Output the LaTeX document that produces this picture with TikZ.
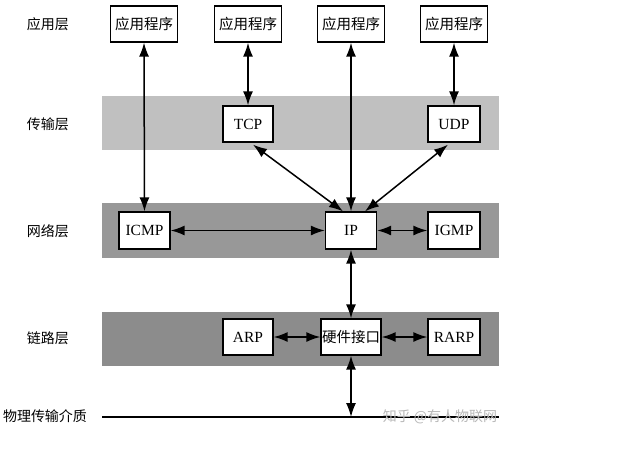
\documentclass[tikz,border=0pt]{standalone}
\usepackage{fontspec}
\setmainfont{Liberation Serif}
\newfontfamily\cjk{Noto Sans CJK SC}
\usetikzlibrary{arrows.meta}
\definecolor{transband}{RGB}{192,192,192}
\definecolor{netband}{RGB}{152,152,152}
\definecolor{linkband}{RGB}{140,140,140}
\tikzset{
  box/.style={draw, line width=1.3pt, fill=white, minimum height=36pt, inner sep=0pt, font=\fontsize{15.5}{17}\selectfont},
  cjkbox/.style={box, font=\cjk\fontsize{14.5}{16}\selectfont},
  lbl/.style={inner sep=0pt, font=\cjk\fontsize{14}{16}\selectfont},
  tip/.tip={Latex[length=14pt,width=10pt]},
  arr/.style={tip-tip, line width=1.5pt},
}
\begin{document}
\begin{tikzpicture}[x=1pt,y=-1pt]
\useasboundingbox[fill=white] (0,0) rectangle (630,453);
% bands
\fill[transband] (102,96) rectangle (499,150);
\fill[netband] (102,203) rectangle (499,258);
\fill[linkband] (102,312) rectangle (499,366);
% layer labels
\node[lbl] (lapp) at (48,24) {应用层};
\node[lbl] (ltrans) at (48,124) {传输层};
\node[lbl] (lnet) at (48,231) {网络层};
\node[lbl] (llink) at (48,338) {链路层};
\node[lbl] (lphy) at (45,416) {物理传输介质};
% physical line
\coordinate (phyL) at (102,417);
\coordinate (phyR) at (499,417);
\coordinate (phyhw) at (351,417);
\draw[line width=1.4pt] (phyL) -- (phyR);
% application boxes
\node[cjkbox, minimum width=67pt] (app1) at (144,24) {应用程序};
\node[cjkbox, minimum width=67pt] (app2) at (248,24) {应用程序};
\node[cjkbox, minimum width=67pt] (app3) at (351,24) {应用程序};
\node[cjkbox, minimum width=67pt] (app4) at (454,24) {应用程序};
% transport
\node[box, minimum width=50pt] (tcp) at (248,124) {TCP};
\node[box, minimum width=52pt] (udp) at (454,124) {UDP};
% network
\node[box, minimum width=51pt, minimum height=37pt] (icmp) at (144.5,230.5) {ICMP};
\node[box, minimum width=51pt, minimum height=37pt] (ip) at (351,230.5) {IP};
\node[box, minimum width=52pt, minimum height=37pt] (igmp) at (454,230.5) {IGMP};
% link
\node[box, minimum width=50pt] (arp) at (248,337) {ARP};
\node[cjkbox, minimum width=60pt] (hw) at (351,337) {硬件接口};
\node[box, minimum width=52pt] (rarp) at (454,337) {RARP};
% connectors
\draw[arr] (app1.south) -- (icmp.north);
\draw[arr] (app2.south) -- (tcp.north);
\draw[arr] (app3.south) -- (ip.north);
\draw[arr] (app4.south) -- (udp.north);
\draw[arr] ([xshift=5pt,yshift=-2pt]tcp.south) -- ([xshift=-8pt]ip.north);
\draw[arr] ([xshift=-6pt,yshift=-2pt]udp.south) -- ([xshift=14pt]ip.north);
\draw[arr] (icmp.east) -- (ip.west);
\draw[arr] (ip.east) -- (igmp.west);
\draw[arr] (ip.south) -- (hw.north);
\draw[arr] (arp.east) -- (hw.west);
\draw[arr] (hw.east) -- (rarp.west);
\draw[arr] (hw.south) -- (phyhw);
% watermark
\node[lbl, text=black!28] (wm) at (440,417) {知乎 @有人物联网};
\end{tikzpicture}
\end{document}
